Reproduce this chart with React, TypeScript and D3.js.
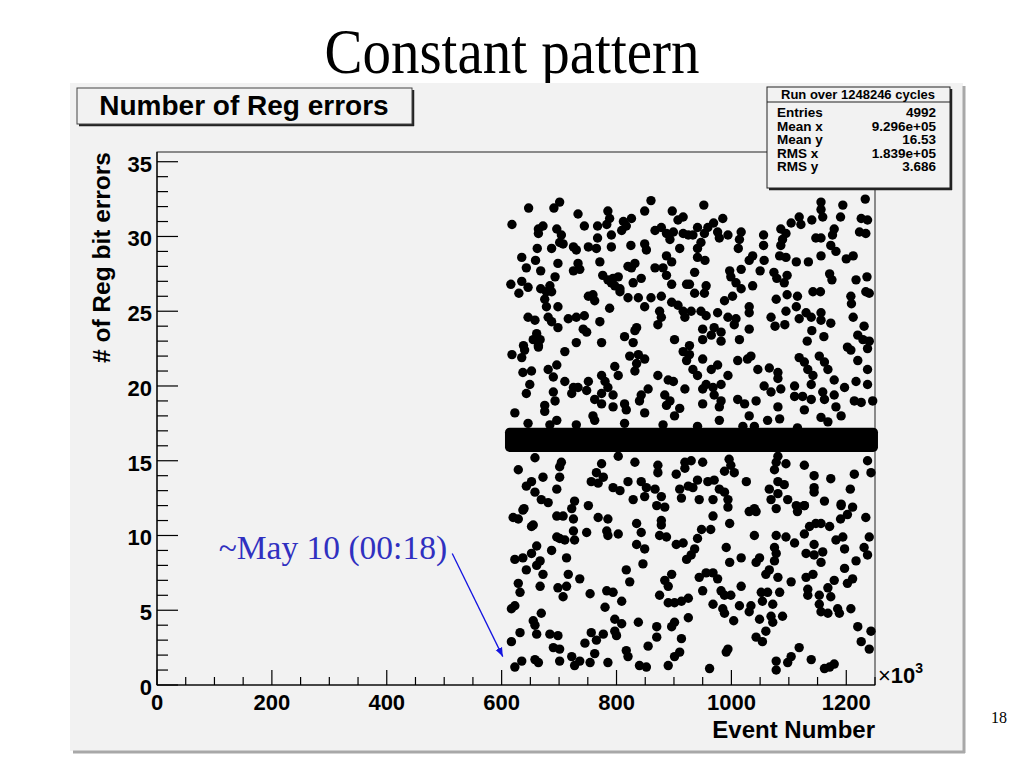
import React from 'react';
import * as d3 from 'd3';

// event number in units of 10^3, number of register bit errors
const scatterTop: [number, number][] = [
  [647, 31.9], [691, 31.9], [701, 32.3], [618, 30.8], [733, 31.5], [744, 30.7], [767, 30.7], [785, 31.7],
  [788, 31.2], [783, 30.8], [812, 31.0], [817, 30.7], [826, 31.2], [809, 30.4], [860, 32.4], [849, 31.7],
  [897, 31.7], [916, 31.3], [907, 31.1], [867, 30.4], [878, 30.6], [887, 30.2], [893, 29.8], [899, 30.3],
  [916, 30.2], [925, 30.1], [664, 30.5], [672, 30.7], [696, 30.5], [664, 30.2], [704, 30.1], [701, 29.6],
  [707, 29.5], [767, 29.9], [791, 30.1], [791, 29.3], [825, 29.4], [849, 29.5], [852, 29.1], [662, 29.2],
  [687, 29.2], [725, 29.3], [730, 29.1], [751, 29.3], [765, 29.2], [910, 29.2], [635, 28.6], [659, 28.4],
  [643, 27.9], [668, 27.7], [698, 28.2], [733, 28.2], [736, 27.8], [725, 27.7], [771, 28.3], [820, 28.0],
  [832, 28.2], [826, 27.9], [867, 27.9], [881, 27.9], [887, 28.7], [896, 28.3], [887, 27.4], [693, 27.3],
  [616, 26.8], [635, 27.0], [646, 26.6], [630, 26.2], [668, 26.5], [684, 26.7], [678, 26.3], [687, 26.3],
  [675, 25.8], [776, 27.4], [785, 27.1], [794, 27.2], [803, 27.3], [791, 26.9], [797, 26.7], [806, 26.5],
  [806, 26.3], [829, 26.9], [843, 27.2], [896, 26.8], [922, 26.8], [751, 26.0], [759, 26.1], [762, 25.7],
  [820, 25.9], [838, 25.9], [860, 25.9], [878, 26.0], [896, 25.6], [907, 25.4], [916, 25.0], [919, 24.6],
  [678, 25.3], [698, 25.3], [788, 25.2], [849, 25.3], [875, 25.0], [878, 24.6], [872, 24.1], [646, 24.6],
  [658, 24.4], [681, 24.6], [687, 24.3], [698, 23.9], [716, 24.5], [730, 24.6], [744, 24.7], [771, 24.3],
  [742, 23.8], [748, 23.6], [835, 23.9], [832, 23.7], [814, 23.3], [829, 22.9], [901, 23.1], [661, 23.5],
  [655, 23.1], [667, 23.1], [638, 22.7], [730, 22.9], [774, 22.9], [664, 22.7],
  [952, 32.1], [1156, 32.3], [1156, 31.8], [1159, 31.3], [1194, 32.1], [1233, 32.5], [1190, 31.3], [1226, 31.2],
  [1237, 31.1], [1140, 31.1], [1118, 31.3], [1121, 30.8], [1104, 30.9], [1086, 30.5], [1095, 30.2], [1089, 29.8],
  [1086, 29.4], [985, 31.2], [969, 30.9], [959, 30.6], [941, 30.6], [933, 30.1], [953, 30.2], [976, 30.3],
  [979, 29.9], [994, 30.1], [1017, 30.3], [1014, 29.8], [1056, 30.1], [1056, 29.4], [1012, 29.2], [947, 29.6],
  [941, 29.2], [941, 28.6], [954, 28.4], [1147, 29.9], [1156, 29.9], [1179, 30.5], [1176, 30.1], [1173, 29.4],
  [1182, 29.0], [1223, 30.3], [1234, 30.2], [1156, 28.7], [1200, 28.5], [1212, 28.7], [1037, 28.7], [1031, 28.4],
  [1057, 28.4], [1084, 28.7], [1095, 28.6], [1113, 28.3], [1134, 28.3], [1017, 27.8], [1050, 27.7], [997, 27.7],
  [936, 27.6], [1074, 27.6], [1079, 27.2], [1092, 26.9], [1097, 27.4], [1171, 27.5], [1175, 27.1], [1217, 27.1],
  [1236, 27.3], [999, 27.3], [1008, 26.9], [927, 26.8], [956, 26.7], [953, 26.2], [936, 26.2], [1037, 26.7],
  [1017, 26.5], [1002, 26.0], [988, 25.7], [1097, 26.1], [1115, 26.0], [1078, 25.8], [1142, 26.3], [1155, 26.3],
  [1208, 26.0], [1209, 25.5], [1234, 26.3], [1240, 26.2], [930, 25.0], [947, 25.0], [956, 24.7], [976, 24.9],
  [994, 24.6], [1008, 24.5], [1005, 24.1], [1031, 25.3], [1031, 24.9], [1031, 23.8], [950, 23.8], [970, 23.9],
  [982, 23.6], [965, 23.4], [950, 23.1], [982, 23.0], [1014, 23.1], [927, 22.7], [1069, 24.6], [1076, 24.0],
  [1093, 24.1], [1095, 25.0], [1113, 25.3], [1118, 24.5], [1130, 24.9], [1139, 24.6], [1156, 24.9], [1156, 24.4],
  [1173, 24.2], [1140, 23.7], [1132, 23.0], [1161, 23.3], [1212, 24.6], [1231, 24.0], [1220, 23.4], [1229, 23.1],
  [1240, 23.0], [1202, 22.6],
];

const scatterMiddle: [number, number][] = [
  [618, 22.1], [635, 21.9], [640, 22.4], [664, 22.6], [710, 22.3], [637, 20.9], [652, 21.0], [649, 20.1],
  [643, 19.5], [681, 21.1], [696, 21.4], [690, 20.6], [710, 20.3], [725, 19.9], [733, 19.9], [751, 20.3],
  [722, 19.5], [748, 19.7], [774, 20.7], [780, 20.3], [785, 19.9], [774, 19.5], [794, 19.4], [762, 19.1],
  [774, 18.8], [794, 18.6], [797, 21.3], [803, 20.7], [823, 22.0], [838, 22.1], [849, 21.8], [832, 21.0],
  [835, 21.5], [872, 20.7], [890, 20.4], [899, 20.3], [916, 22.3], [922, 21.7], [855, 19.8], [843, 19.4],
  [840, 19.0], [884, 19.4], [893, 19.0], [887, 18.7], [910, 18.5], [901, 18.0], [919, 19.8], [690, 19.6],
  [693, 19.0], [675, 18.7], [675, 18.3], [623, 18.2], [646, 17.5], [684, 17.4], [696, 17.7], [730, 17.4],
  [759, 18.0], [762, 17.7], [814, 18.8], [817, 18.4], [814, 17.5], [849, 18.2], [881, 17.4],
  [658, 15.2], [629, 14.4], [704, 14.9], [701, 14.6], [701, 13.9], [672, 13.9], [652, 13.6], [643, 13.3],
  [658, 12.9], [669, 12.4], [681, 12.2], [696, 13.1], [727, 12.3], [751, 12.0], [639, 11.8], [756, 13.6],
  [768, 13.5], [765, 14.2], [777, 13.9], [774, 14.8], [794, 13.2], [806, 13.0], [820, 13.6], [803, 15.3],
  [832, 14.9], [843, 13.6], [852, 13.2], [872, 14.7], [872, 14.2], [867, 13.1], [878, 12.6], [849, 12.6],
  [829, 12.4], [904, 14.1], [919, 14.9], [919, 14.5], [910, 13.1], [925, 13.3], [913, 12.5], [870, 12.0],
  [884, 11.9],
  [927, 22.1], [950, 21.8], [933, 21.1], [941, 20.7], [965, 21.1], [976, 21.4], [994, 20.7], [956, 20.1],
  [950, 19.8], [968, 19.9], [982, 20.1], [970, 19.4], [982, 19.0], [979, 18.6], [950, 18.8], [1011, 21.7],
  [1028, 21.8], [1034, 22.0], [1046, 21.1], [1066, 21.2], [1081, 20.9], [1081, 20.5], [1057, 20.0], [1069, 19.6],
  [1086, 19.8], [1011, 19.1], [1023, 18.8], [1043, 19.0], [1031, 18.0], [1081, 18.6], [1063, 17.7], [1084, 17.8],
  [979, 17.7], [941, 17.3], [1020, 17.3], [1040, 17.3], [1118, 21.9], [1127, 21.6], [1133, 21.1], [1142, 20.7],
  [1153, 22.0], [1162, 21.6], [1168, 21.1], [1110, 20.0], [1110, 19.3], [1124, 19.3], [1139, 19.1], [1139, 20.1],
  [1159, 19.6], [1162, 19.1], [1179, 19.4], [1182, 18.6], [1197, 19.9], [1179, 20.4], [1208, 22.4], [1220, 21.7],
  [1237, 22.5], [1237, 21.1], [1217, 20.3], [1237, 20.1], [1214, 19.0], [1226, 18.9], [1246, 19.0], [1127, 18.4],
  [1156, 17.9], [1168, 17.6], [1191, 18.0], [1115, 17.2],
  [950, 14.9], [930, 15.0], [996, 15.1], [999, 14.7], [988, 14.3], [1005, 14.2], [941, 13.7], [959, 13.6],
  [970, 13.7], [979, 13.1], [988, 12.9], [933, 13.2], [944, 12.4], [968, 12.4], [994, 12.4], [1026, 13.6],
  [1040, 11.8], [1081, 15.3], [1078, 14.9], [1075, 14.4], [1095, 14.8], [1127, 14.7], [1081, 13.6], [1092, 13.4],
  [1066, 13.1], [1081, 12.8], [1069, 12.4], [1098, 12.4], [1113, 12.0], [1127, 12.0], [1144, 14.0], [1144, 13.2],
  [1173, 13.8], [1144, 12.9], [1162, 12.3], [1191, 12.1], [1207, 13.1], [1214, 14.1], [1237, 15.0], [1243, 14.2],
  [1211, 11.9],
];

const scatterBottom: [number, number][] = [
  [620, 11.2], [629, 11.1], [637, 11.7], [652, 10.6], [655, 10.7], [696, 11.3], [707, 11.3], [722, 11.8],
  [725, 11.1], [696, 9.9], [701, 9.8], [710, 9.7], [727, 9.7], [725, 10.3], [748, 10.2], [768, 11.2],
  [785, 11.1], [783, 10.3], [785, 10.0], [803, 10.1], [835, 10.8], [843, 10.2], [835, 9.4], [849, 9.1],
  [878, 11.0], [878, 10.7], [875, 10.0], [887, 9.9], [904, 9.4], [916, 9.5], [922, 8.4], [687, 9.0],
  [713, 8.5], [661, 9.3], [652, 8.8], [623, 8.4], [637, 8.5], [667, 8.3], [661, 8.0], [643, 7.7],
  [672, 7.4], [716, 7.4], [736, 7.1], [846, 8.1], [817, 7.7], [823, 6.9], [896, 7.4], [884, 7.0],
  [890, 6.6], [629, 6.8], [632, 6.2], [667, 6.6], [698, 6.5], [713, 6.6], [707, 5.9], [754, 6.1],
  [783, 6.3], [794, 6.2], [809, 5.6], [780, 5.2], [875, 6.0], [890, 5.5], [901, 5.5], [913, 5.6],
  [925, 5.8], [925, 4.5], [623, 5.3], [617, 5.1], [669, 4.8], [655, 4.3], [658, 4.0], [661, 3.4],
  [632, 3.5], [617, 2.9], [684, 3.4], [698, 3.3], [797, 4.4], [809, 4.1], [797, 3.6], [800, 3.3],
  [756, 3.5], [765, 3.0], [745, 2.8], [777, 3.4], [838, 4.2], [870, 3.9], [870, 3.2], [901, 4.2],
  [896, 3.9], [913, 3.1], [910, 2.2], [901, 1.9], [690, 2.5], [701, 2.4], [701, 1.6], [722, 1.9],
  [727, 1.3], [736, 1.6], [754, 1.5], [762, 2.1], [785, 1.5], [817, 2.3], [820, 1.9], [855, 2.6],
  [840, 1.3], [852, 1.2], [890, 1.3], [623, 1.2], [635, 1.6], [658, 1.7], [664, 1.5],
  [968, 11.3], [994, 11.9], [997, 10.8], [1031, 11.6], [1043, 11.6], [1078, 11.8], [1115, 11.6], [1127, 12.0],
  [1191, 12.0], [1202, 11.4], [1190, 11.1], [1234, 11.2], [948, 10.4], [964, 10.4], [941, 9.8], [936, 9.1],
  [930, 8.7], [991, 9.2], [997, 8.2], [1017, 8.5], [1040, 10.0], [1049, 8.5], [1043, 8.2], [1078, 10.0],
  [1075, 9.2], [1078, 8.8], [1075, 8.3], [1095, 9.9], [1110, 9.5], [1127, 10.1], [1136, 10.6], [1147, 10.8],
  [1156, 10.8], [1171, 10.6], [1144, 9.4], [1130, 8.8], [1144, 8.7], [1159, 8.9], [1156, 8.2], [1182, 9.7],
  [1194, 9.9], [1197, 9.1], [1217, 8.3], [1231, 9.2], [1240, 9.9], [1237, 8.7], [944, 7.2], [956, 7.5],
  [968, 7.5], [976, 7.1], [950, 6.3], [982, 6.3], [988, 6.0], [999, 6.0], [1017, 6.6], [968, 5.4],
  [985, 5.1], [988, 4.8], [1004, 4.3], [1014, 5.3], [1034, 5.3], [1031, 4.9], [1049, 4.4], [1066, 7.7],
  [1060, 7.4], [1081, 7.2], [1052, 6.2], [1063, 6.2], [1084, 6.2], [1054, 5.6], [1072, 5.4], [1089, 4.6],
  [1069, 4.6], [1072, 4.2], [1060, 3.6], [1043, 3.2], [1054, 2.9], [1104, 6.9], [1130, 7.2], [1142, 7.4],
  [1133, 6.4], [1133, 6.0], [1153, 6.0], [1173, 5.9], [1153, 5.4], [1156, 4.9], [1168, 4.8], [1185, 5.1],
  [1188, 4.8], [1208, 5.1], [1168, 6.5], [1179, 7.0], [1202, 6.8], [1211, 7.1], [1197, 7.8], [1220, 3.9],
  [1243, 3.6], [1226, 2.9], [1240, 2.4], [1118, 2.5], [1104, 1.9], [1098, 1.5], [1139, 1.7], [1162, 1.1],
  [1171, 1.2], [1179, 1.4], [1078, 1.6], [1078, 1.0], [962, 1.1], [991, 2.2], [994, 2.4],
];

// the dense constant band of entries
const bandEvents: [number, number] = [614, 1247];
const bandErrors: [number, number] = [15.9, 16.9];

const xTicks = [0, 200, 400, 600, 800, 1000, 1200];
const yTicks = [0, 5, 10, 15, 20, 25, 30, 35];

const statsHeader = 'Run over 1248246 cycles';
const statLabels = ['Entries', 'Mean x', 'Mean y', 'RMS x', 'RMS y'];
const statValues = ['4992', '9.296e+05', '16.53', '1.839e+05', '3.686'];

const noteText = '~May 10 (00:18)';
const noteAnchor: [number, number] = [505, 8.4];
const arrowFrom: [number, number] = [514, 8.8];
const arrowTo: [number, number] = [602, 1.9];

const SANS = '"Liberation Sans", Arial, Helvetica, sans-serif';
const SERIF = '"Liberation Serif", "Times New Roman", serif';
const PAD = '#f2f2f2';

const App: React.FC = () => {
  const x = d3.scaleLinear().domain([0, 1250]).range([157, 875]);
  const y = d3.scaleLinear().domain([0, 35.65]).range([685, 152]);
  const r = 4.7;

  const [x0, x1] = x.range();
  const [y0, y1] = y.range();
  const minorX = d3.range(0, 1250.1, 50);
  const minorY = d3.range(0, 35.1, 1);

  const allPoints = [...scatterTop, ...scatterMiddle, ...scatterBottom];

  const arrowLine = d3.line()([
    [x(arrowFrom[0]), y(arrowFrom[1])],
    [x(arrowTo[0]), y(arrowTo[1])],
  ]) as string;

  return (
    <div style={{ position: 'fixed', left: 0, top: 0 }}>
      <svg width={1024} height={768} style={{ display: 'block', background: '#fff' }}>
        <defs>
          <marker id="head" viewBox="0 0 10 10" refX="10" refY="5" markerWidth="9" markerHeight="9" orient="auto" markerUnits="userSpaceOnUse">
            <path d="M0,1 L10,5 L0,9 Z" fill="#1414e0" />
          </marker>
        </defs>

        <text transform="translate(512,73) scale(1,1.1)" textAnchor="middle" fontFamily={SERIF} fontSize={57} fill="#000">
          Constant pattern
        </text>
        <text x={999} y={723} textAnchor="middle" fontFamily={SERIF} fontSize={16} fill="#000">
          18
        </text>

        {/* canvas pad with shadow */}
        <rect x={70} y={83} width={893} height={668} fill={PAD} />
        <line x1={964} y1={86} x2={964} y2={753} stroke="#a8a8a8" strokeWidth={3} />
        <line x1={73} y1={752} x2={965} y2={752} stroke="#a8a8a8" strokeWidth={3} />

        {/* frame */}
        <rect x={x0} y={y1} width={x1 - x0} height={y0 - y1} fill={PAD} stroke="#222" strokeWidth={1} />

        {/* band + scatter */}
        <rect
          x={x(bandEvents[0]) - r}
          y={y(bandErrors[1]) - r}
          width={x(bandEvents[1]) - x(bandEvents[0]) + 2 * r}
          height={y(bandErrors[0]) - y(bandErrors[1]) + 2 * r}
          rx={r}
          fill="#000"
        />
        {allPoints.map(([ev, err], i) => (
          <circle key={i} cx={x(ev)} cy={y(err)} r={r} fill="#000" />
        ))}

        {/* axes */}
        <line x1={x0} y1={y0} x2={x1} y2={y0} stroke="#000" strokeWidth={1.2} />
        <line x1={x0} y1={y0} x2={x0} y2={y1} stroke="#000" strokeWidth={1.2} />
        {minorX.map((v) => {
          const major = v % 200 === 0;
          return <line key={'mx' + v} x1={x(v)} x2={x(v)} y1={y0} y2={y0 - (major ? 15 : 8)} stroke="#000" strokeWidth={1.2} />;
        })}
        {minorY.map((v) => {
          const major = v % 5 === 0;
          return <line key={'my' + v} x1={x0} x2={x0 + (major ? 21 : 11)} y1={y(v)} y2={y(v)} stroke="#000" strokeWidth={1.2} />;
        })}
        {xTicks.map((v) => (
          <text key={'tx' + v} x={x(v)} y={y0 + 25} textAnchor="middle" fontFamily={SANS} fontWeight="bold" fontSize={22}>
            {v}
          </text>
        ))}
        {yTicks.map((v) => (
          <text key={'ty' + v} x={x0 - 5} y={y(v) + 10} textAnchor="end" fontFamily={SANS} fontWeight="bold" fontSize={22}>
            {v}
          </text>
        ))}
        <text x={x1 + 3} y={y0 - 2} fontFamily={SANS} fontWeight="bold" fontSize={22}>
          <tspan fontWeight="normal">×</tspan>10
          <tspan dy={-10} fontSize={14}>3</tspan>
        </text>
        <text x={x1} y={y0 + 53} textAnchor="end" fontFamily={SANS} fontWeight="bold" fontSize={24}>
          Event Number
        </text>
        <text transform={`translate(110,${y1}) rotate(-90)`} textAnchor="end" fontFamily={SANS} fontWeight="bold" fontSize={24.5}>
          # of Reg bit errors
        </text>

        {/* title pave */}
        <line x1={413} y1={90} x2={413} y2={126} stroke="#222" strokeWidth={2.5} />
        <line x1={79} y1={125} x2={414} y2={125} stroke="#222" strokeWidth={2.5} />
        <rect x={77} y={88} width={335} height={36} fill={PAD} stroke="#444" strokeWidth={1} />
        <text x={244} y={115} textAnchor="middle" fontFamily={SANS} fontWeight="bold" fontSize={28}>
          Number of Reg errors
        </text>

        {/* stats box */}
        <line x1={951} y1={89} x2={951} y2={190} stroke="#222" strokeWidth={2.5} />
        <line x1={769} y1={189} x2={952} y2={189} stroke="#222" strokeWidth={2.5} />
        <rect x={767} y={87} width={183} height={101} fill={PAD} stroke="#222" strokeWidth={1} />
        <line x1={767} y1={102} x2={950} y2={102} stroke="#222" strokeWidth={1} />
        <text x={858} y={99} textAnchor="middle" fontFamily={SANS} fontWeight="bold" fontSize={13}>
          {statsHeader}
        </text>
        {statLabels.map((lab, i) => (
          <g key={lab} fontFamily={SANS} fontWeight="bold" fontSize={13.5}>
            <text x={777} y={117 + i * 13.6}>{lab}</text>
            <text x={936} y={117 + i * 13.6} textAnchor="end">{statValues[i]}</text>
          </g>
        ))}

        {/* annotation */}
        <text x={x(noteAnchor[0])} y={y(noteAnchor[1])} textAnchor="end" fontFamily={SERIF} fontSize={33.5} fill="#3030c0">
          {noteText}
        </text>
        <path d={arrowLine} stroke="#1414e0" strokeWidth={1.3} fill="none" markerEnd="url(#head)" />
      </svg>
    </div>
  );
};

export default App;
